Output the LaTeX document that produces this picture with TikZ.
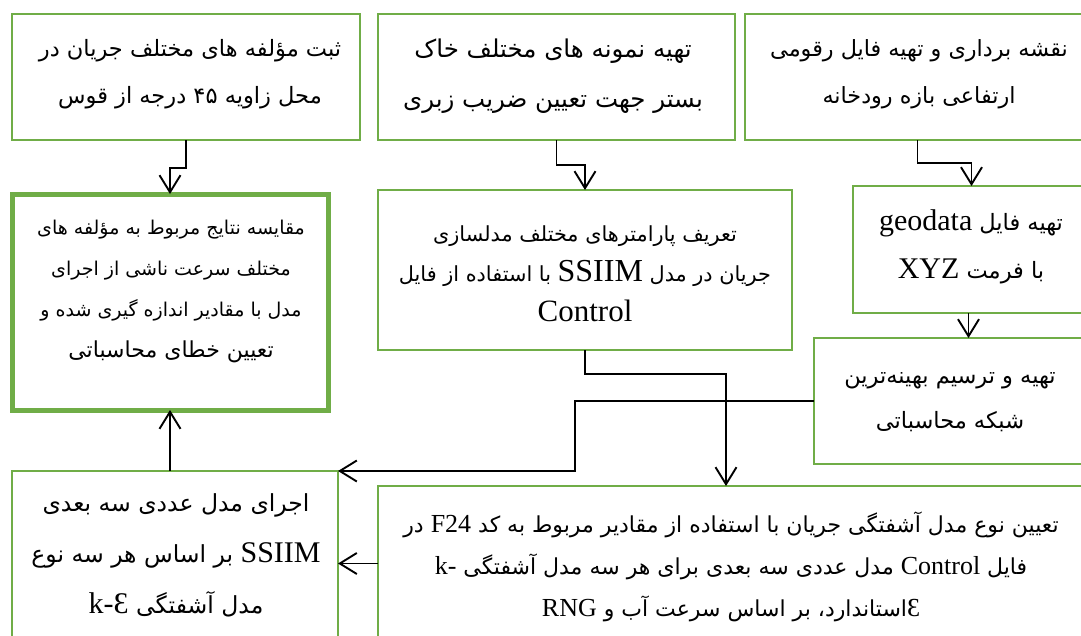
\documentclass[tikz,border=0pt]{standalone}
\usepackage{fontspec}
\usetikzlibrary{arrows.meta,calc}
\TeXXeTstate=1
\newfontfamily\arfont[Script=Arabic]{DejaVu Sans}
\newfontfamily\latfont{Liberation Serif}
\definecolor{boxgreen}{RGB}{112,173,71}
\newcommand\FA[1]{\beginR #1\endR}
\newcommand\LT[2][30]{{\latfont\fontsize{#1}{#1}\selectfont\beginL #2\endL}}
\newcommand\fs[2]{\arfont\fontsize{#1}{#2}\selectfont}
\tikzset{
  box/.style={draw=boxgreen, line width=2pt, outer sep=0pt, inner sep=0pt,
    anchor=north west},
  thickbox/.style={box, line width=5pt},
  txt/.style={inner sep=0pt, align=center},
  arr/.style={draw=black, line width=1.9pt,
    -{Straight Barb[length=17pt,width=21pt,line width=1.9pt]}}
}
\begin{document}
\begin{tikzpicture}[x=1pt,y=-1pt]
\useasboundingbox (0,0) rectangle (1081,635);
\clip (0,0) rectangle (1081,635);
% boxes
\node[box, minimum width=348pt, minimum height=126pt] (A) at (12,14) {};
\node[box, minimum width=357pt, minimum height=126pt] (B) at (378,14) {};
\node[box, minimum width=345pt, minimum height=126pt] (C) at (745,14) {};
\node[thickbox, minimum width=316pt, minimum height=216pt] (D) at (12,194) {};
\node[box, minimum width=414pt, minimum height=160pt] (E) at (378,190) {};
\node[box, minimum width=237pt, minimum height=127pt] (F) at (853,186) {};
\node[box, minimum width=276pt, minimum height=126pt] (G) at (814,338) {};
\node[box, minimum width=326pt, minimum height=174pt] (H) at (12,471) {};
\node[box, minimum width=712pt, minimum height=159pt] (I) at (378,486) {};
% texts
\node[txt, font=\fs{22.5}{47}] (At) at (190,74.5)
  {\FA{ثبت مؤلفه های مختلف جریان در}\\ \FA{محل زاویه ۴۵ درجه از قوس}};
\node[txt, font=\fs{24.5}{50}] (Bt) at (553,76)
  {\FA{تهیه نمونه های مختلف خاک}\\ \FA{بستر جهت تعیین ضریب زبری}};
\node[txt, font=\fs{22.3}{47}] (Ct) at (919,74.5)
  {\FA{نقشه برداری و تهیه فایل رقومی}\\ \FA{ارتفاعی بازه رودخانه}};
\node[txt, font=\fs{19}{41}] (Dt) at (171,291)
  {\FA{مقایسه نتایج مربوط به مؤلفه های}\\ \FA{مختلف سرعت ناشی از اجرای}\\
   \FA{مدل با مقادیر اندازه گیری شده و}\\ {\fs{22}{44}\FA{تعیین خطای محاسباتی}}};
\node[txt, font=\fs{20.8}{40}] (Et) at (585,274)
  {\FA{تعریف پارامترهای مختلف مدلسازی}\\
   \FA{جریان در مدل \LT[32]{SSIIM} با استفاده از فایل}\\ \LT[31]{Control}};
\node[txt, font=\fs{22.5}{48}] (Ft) at (971,247)
  {\FA{تهیه فایل \LT{geodata}}\\ \FA{با فرمت \LT{XYZ}}};
\node[txt, font=\fs{22.5}{45}] (Gt) at (950,402)
  {\FA{تهیه و ترسیم بهینه‌ترین}\\ \FA{شبکه محاسباتی}};
\node[txt, font=\fs{23.5}{51}] (Ht) at (176,555)
  {\FA{اجرای مدل عددی سه بعدی}\\ \FA{\LT{SSIIM} بر اساس هر سه نوع}\\
   \FA{مدل آشفتگی \LT{k-Ɛ}}};
\node[txt, font=\fs{22}{42}] (It) at (731,567)
  {\FA{تعیین نوع مدل آشفتگی جریان با استفاده از مقادیر مربوط به کد \LT[26]{F24} در}\\
   \FA{فایل \LT[26]{Control} مدل عددی سه بعدی برای هر سه مدل آشفتگی \LT[26]{k-}}\\
   \FA{\LT[26]{Ɛ}استاندارد، بر اساس سرعت آب و \LT[26]{RNG}}};
% connectors
\draw[arr] (A.south) |- ([yshift=26pt]D.north) -- (D.north);
\draw[arr] (B.south) |- ([yshift=25pt]E.north) -- (E.north);
\draw[arr] (C.south) |- ([yshift=23pt]F.north) -- (F.north);
\draw[arr] ([xshift=-3pt]F.south) -- ([xshift=-3pt]F.south |- G.north);
\draw[arr] (E.south) -- ++(0,24) -| ([xshift=-8pt]I.north);
\draw[arr] (G.west) -| ([xshift=237pt]H.north east) -- (H.north east);
\draw[arr] ([yshift=2pt]I.west) -- ([yshift=2pt]I.west -| H.east);
\draw[arr] (H.north -| D.south) -- (D.south);
\end{tikzpicture}
\end{document}
